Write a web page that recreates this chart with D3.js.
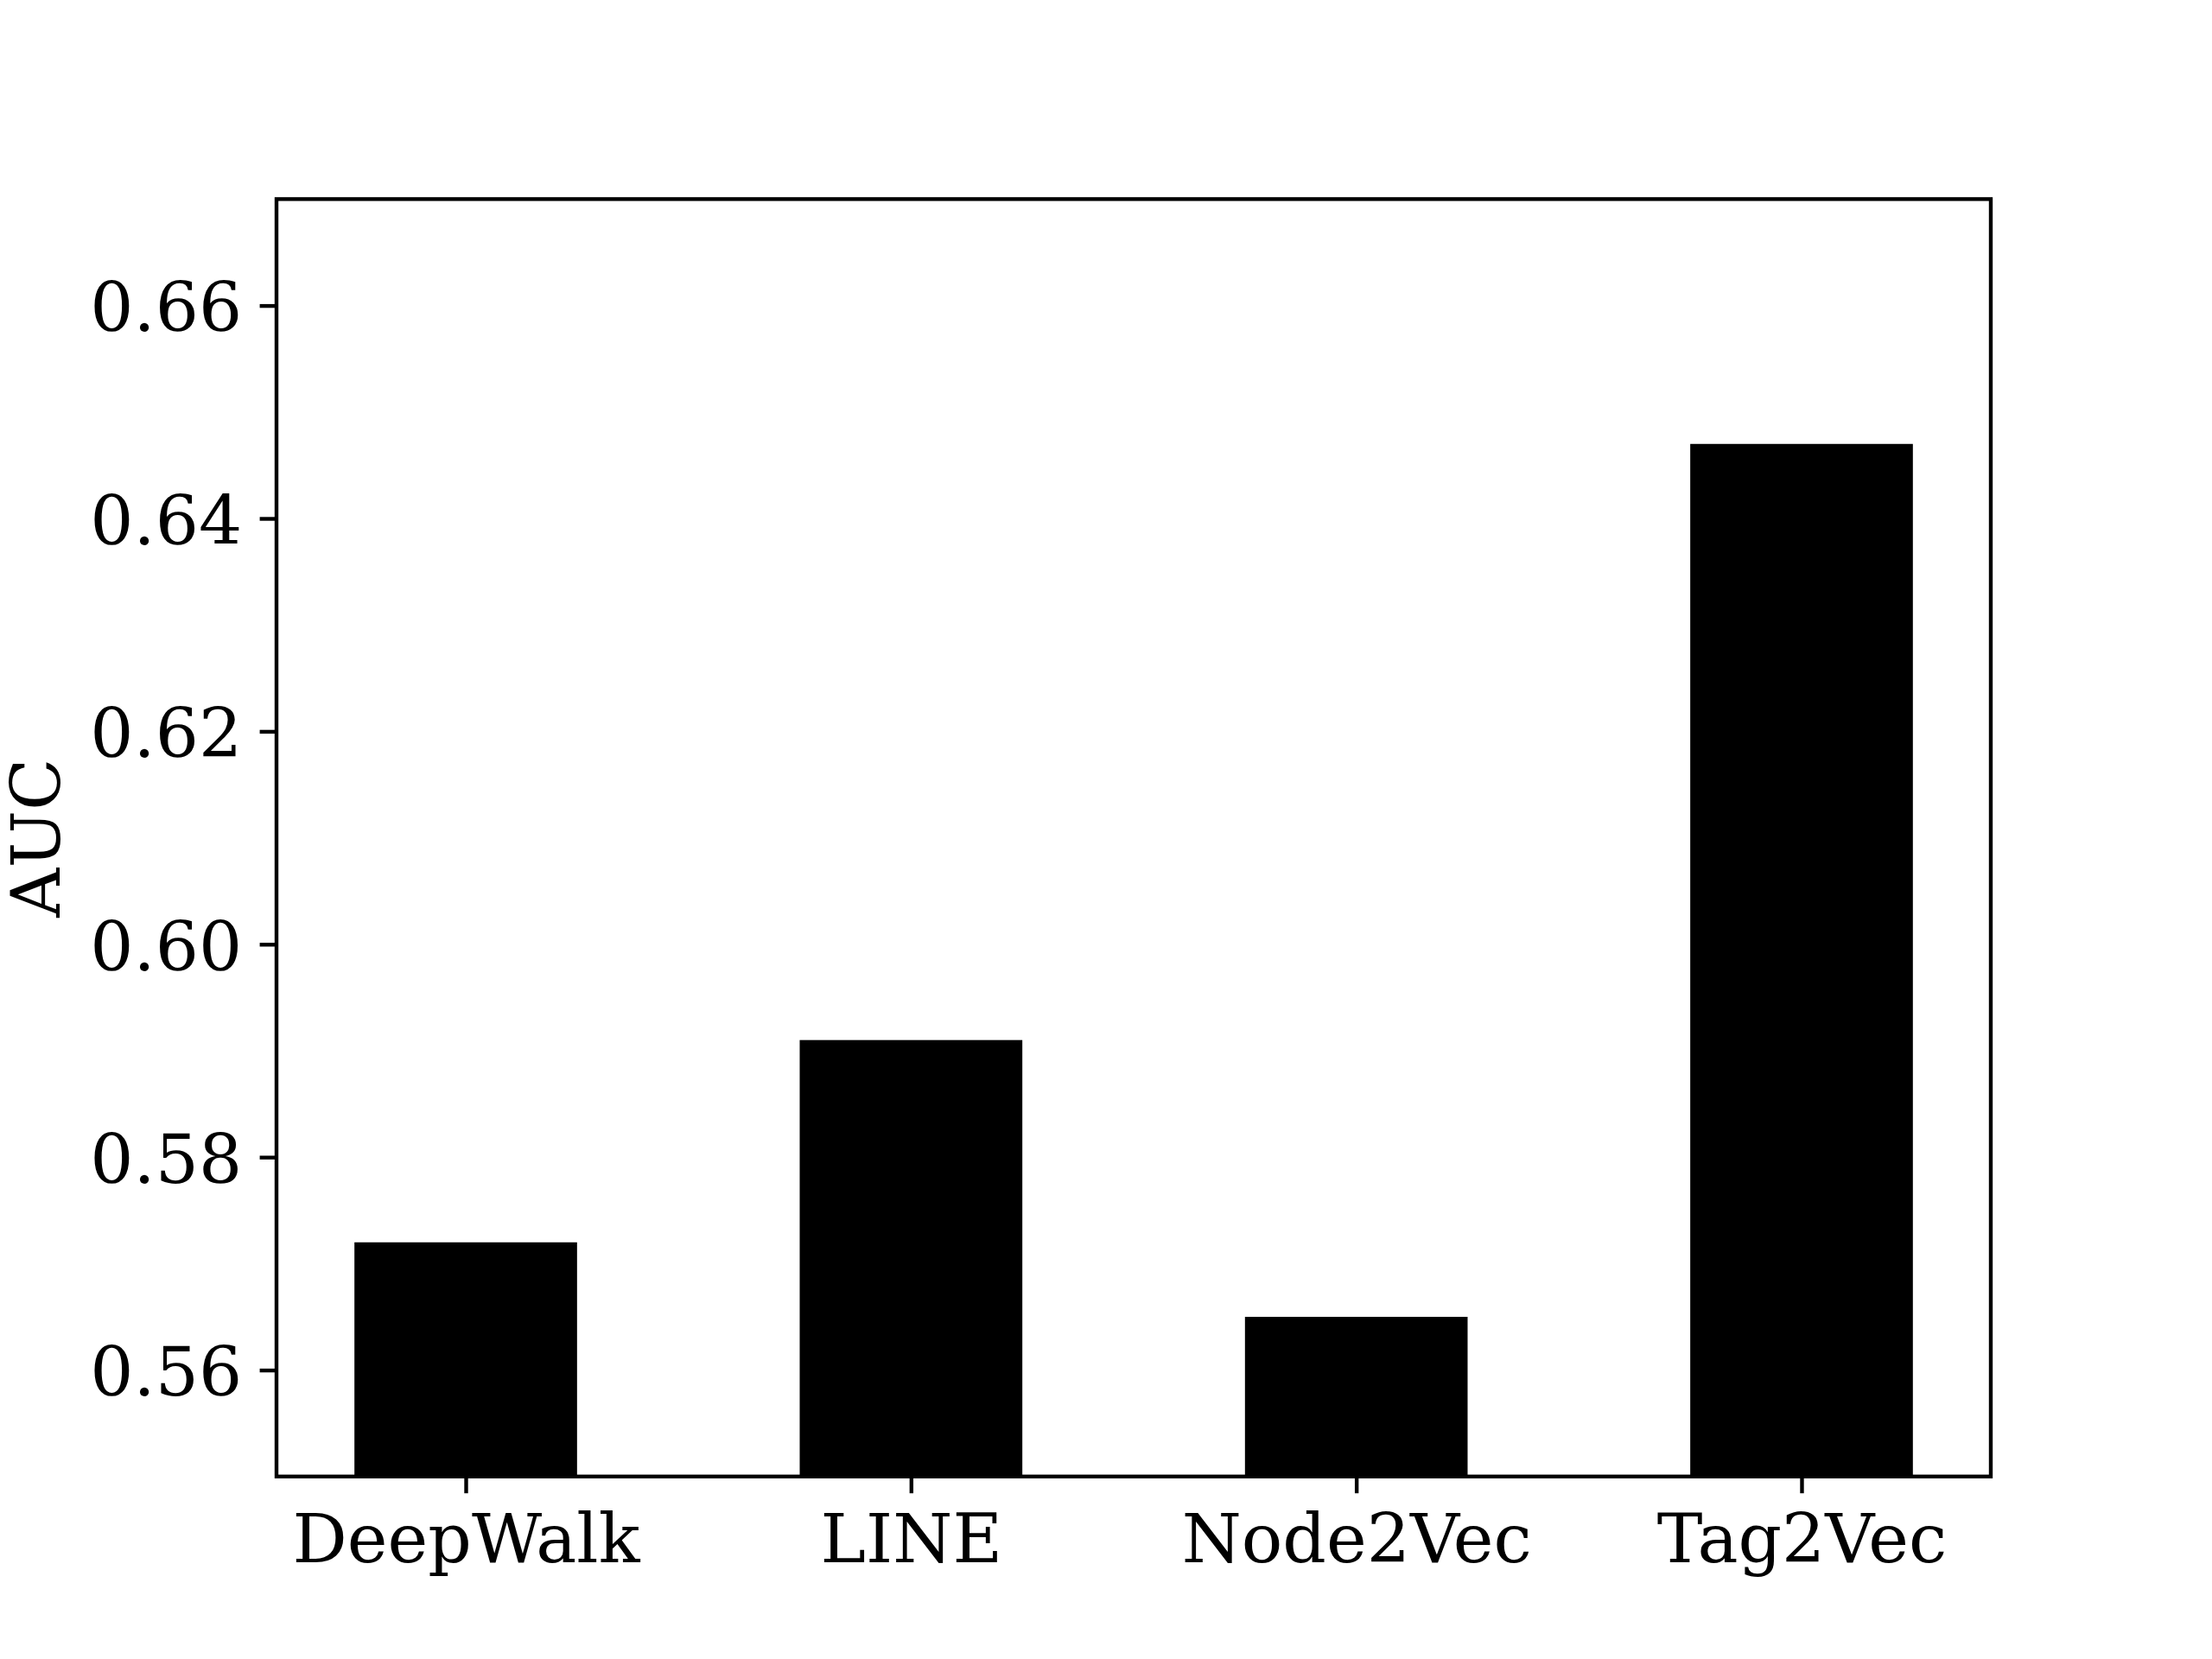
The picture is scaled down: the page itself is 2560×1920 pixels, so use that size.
<!DOCTYPE html>
<html>
<head>
<meta charset="utf-8">
<script src="https://cdn.jsdelivr.net/npm/d3@7"></script>
<style>
  html, body { margin: 0; padding: 0; background: #fff; }
  svg { display: block; }
  text { font-family: "DejaVu Serif", serif; fill: #000; }
</style>
</head>
<body>
<svg id="chart" width="2560" height="1920"></svg>
<script>
const categories = ["DeepWalk", "LINE", "Node2Vec", "Tag2Vec"];
const aucValues = [0.572, 0.591, 0.565, 0.647];
const yTicks = [0.56, 0.58, 0.60, 0.62, 0.64, 0.66];
const yLabel = "AUC";

const W = 2560, H = 1920;
const axL = 320, axR = 2304, axT = 230.4, axB = 1708.8;
const fontPx = 79;
const tickLen = 19.4, tickPad = 19.4, lw = 4.4;

const svg = d3.select("#chart");

const idx = categories.map((d, i) => i);
const x = d3.scaleLinear().domain([-0.425, 3.425]).range([axL, axR]);
const y = d3.scaleLinear().domain([0.55, 0.67]).range([axB, axT]);
const barW = 0.5;

// bars
svg.append("g").selectAll("rect").data(aucValues).join("rect")
  .attr("x", (d, i) => x(i - barW / 2))
  .attr("width", (d, i) => x(i + barW / 2) - x(i - barW / 2))
  .attr("y", d => y(d))
  .attr("height", d => y(0.55) - y(d))
  .attr("fill", "#000");

// y axis
const yAxis = d3.axisLeft(y).tickValues(yTicks).tickFormat(d3.format(".2f"))
  .tickSize(tickLen).tickPadding(tickPad + 1);
const gy = svg.append("g").attr("transform", `translate(${axL},0)`).call(yAxis);
gy.select(".domain").remove();
gy.selectAll(".tick line").attr("stroke", "#000").attr("stroke-width", lw);
gy.selectAll(".tick text").attr("font-size", fontPx).attr("font-family", "DejaVu Serif")
  .attr("dy", "0.37em").attr("fill", "#000");

// x axis
const xAxis = d3.axisBottom(x).tickValues(idx).tickFormat(i => categories[i])
  .tickSize(tickLen).tickPadding(tickPad);
const gx = svg.append("g").attr("transform", `translate(0,${axB})`).call(xAxis);
gx.select(".domain").remove();
gx.selectAll(".tick line").attr("stroke", "#000").attr("stroke-width", lw);
gx.selectAll(".tick text").attr("font-size", fontPx).attr("font-family", "DejaVu Serif")
  .attr("dy", null).attr("y", 1808 - axB).attr("fill", "#000");

// frame
svg.append("rect")
  .attr("x", axL).attr("y", axT)
  .attr("width", axR - axL).attr("height", axB - axT)
  .attr("fill", "none").attr("stroke", "#000").attr("stroke-width", lw)
  .attr("stroke-linejoin", "miter");

// y label
svg.append("text")
  .attr("transform", `translate(69,${(axT + axB) / 2}) rotate(-90)`)
  .attr("text-anchor", "middle")
  .attr("font-size", fontPx)
  .text(yLabel);
</script>
</body>
</html>
